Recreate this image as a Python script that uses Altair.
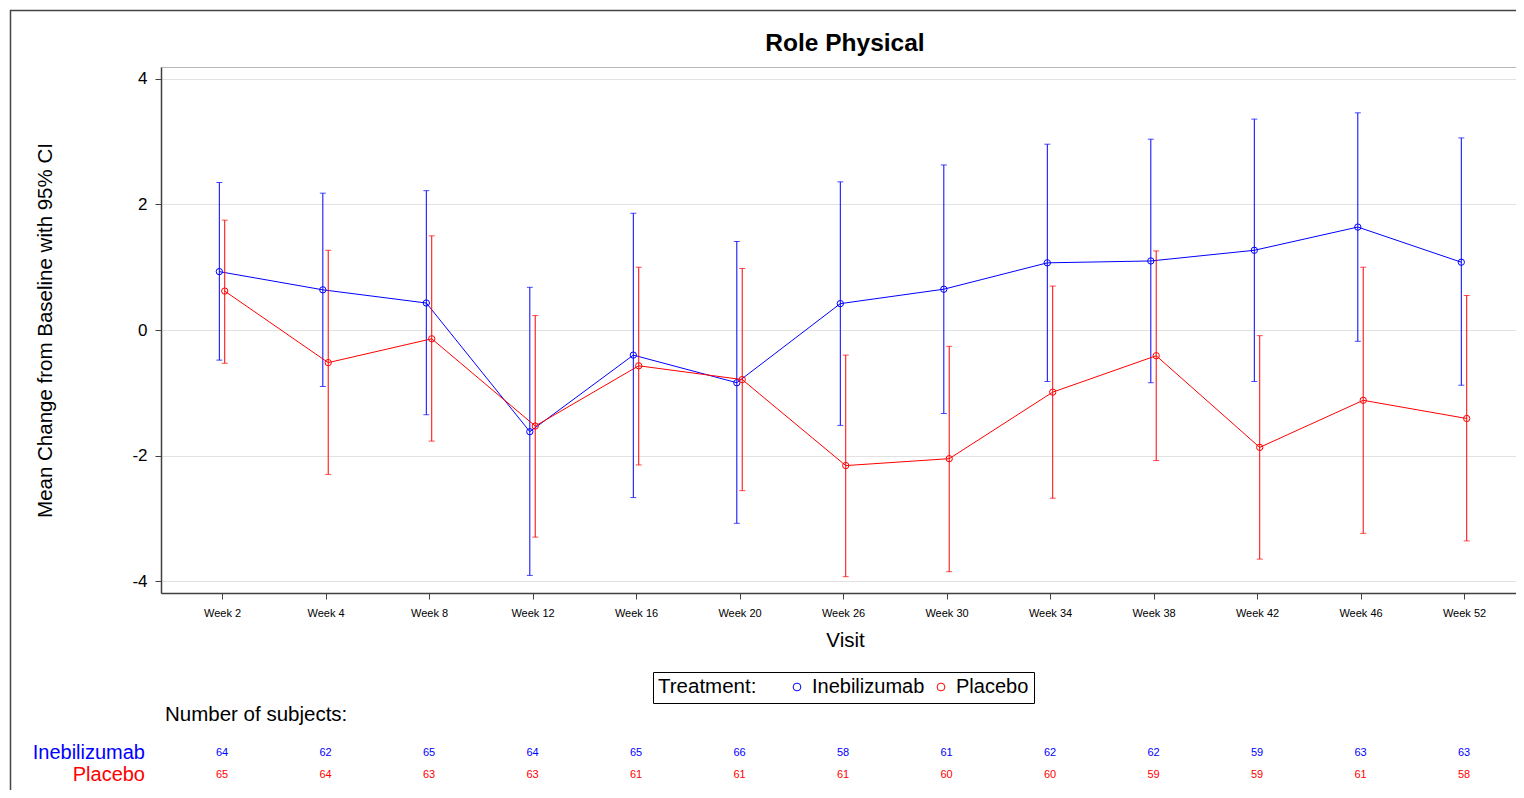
import altair as alt
import pandas as pd

# ---- data ----
visits = ["Week 2", "Week 4", "Week 8", "Week 12", "Week 16", "Week 20", "Week 26",
          "Week 30", "Week 34", "Week 38", "Week 42", "Week 46", "Week 52"]
treatments = ["Inebilizumab", "Placebo"]

ine_mean = [0.93, 0.64, 0.43, -1.62, -0.40, -0.84, 0.42, 0.65, 1.07, 1.10, 1.27, 1.64, 1.08]
ine_lo = [-0.48, -0.90, -1.35, -3.91, -2.67, -3.08, -1.52, -1.33, -0.82, -0.84, -0.82, -0.18, -0.88]
ine_hi = [2.35, 2.18, 2.22, 0.68, 1.86, 1.41, 2.36, 2.63, 2.96, 3.04, 3.36, 3.46, 3.06]

pla_mean = [0.62, -0.52, -0.14, -1.53, -0.57, -0.79, -2.16, -2.05, -0.99, -0.41, -1.87, -1.12, -1.41]
pla_lo = [-0.53, -2.30, -1.77, -3.30, -2.15, -2.56, -3.93, -3.85, -2.68, -2.08, -3.65, -3.24, -3.36]
pla_hi = [1.75, 1.27, 1.50, 0.23, 1.00, 0.98, -0.40, -0.26, 0.70, 1.26, -0.09, 1.00, 0.55]

ine_n = [64, 62, 65, 64, 65, 66, 58, 61, 62, 62, 59, 63, 63]
pla_n = [65, 64, 63, 63, 61, 61, 61, 60, 60, 59, 59, 61, 58]

title_text = "Role Physical"

# ---- layout / style ----
W, H = 1355, 526
FONT = "Liberation Sans"
BLUE, RED = "#0000FF", "#FF0000"
AX = "#404040"
BIG = 20.5


def frame(trt, mean, lo, hi, n):
    return pd.DataFrame({"visit": visits, "trt": trt, "mean": mean, "lo": lo, "hi": hi, "n": n})


df_ine = frame("Inebilizumab", ine_mean, ine_lo, ine_hi, ine_n)
df_pla = frame("Placebo", pla_mean, pla_lo, pla_hi, pla_n)

xscale = alt.Scale(domain=visits, type="point", padding=0.546, align=0.54)
yscale = alt.Scale(domain=[-4.19, 4.19], nice=False, zero=False)
cscale = alt.Scale(domain=treatments, range=[BLUE, RED])

xaxis = alt.Axis(labelAngle=0, tickSize=6, labelPadding=8, labelFontSize=11,
                 labelColor="black", titleFontSize=BIG, titleFontWeight="normal",
                 titleColor="black", grid=False, domainColor=AX, domainWidth=1.5,
                 tickColor=AX, titleBaseline="middle", titleY=47, titleX=684)
yaxis = alt.Axis(values=[-4, -2, 0, 2, 4], labelExpr="'' + datum.value", grid=True,
                 gridColor="#e2e2e2", tickSize=6, labelPadding=8, labelFontSize=17,
                 labelColor="black", titleFontSize=BIG, titleFontWeight="normal",
                 titleColor="black", domainColor=AX, domainWidth=1.5, tickColor=AX,
                 titleX=-116, titleY=H / 2, titleAlign="center", titleBaseline="middle",
                 titleAngle=-90)

XT = "Visit"
YT = "Mean Change from Baseline with 95% CI"


def X():
    return alt.X("visit:N", scale=xscale, sort=visits, axis=xaxis, title=XT)


def Y(f):
    return alt.Y(f"{f}:Q", scale=yscale, axis=yaxis, title=YT)


legend = alt.Legend(title="Treatment:", orient="none", legendX=492, legendY=605,
                    direction="horizontal", titleOrient="left", strokeColor="black",
                    padding=5, titleFontSize=BIG, titleFontWeight="normal", labelFontSize=20,
                    titleColor="black", labelColor="black", symbolType="circle",
                    symbolSize=60, symbolStrokeWidth=1, titlePadding=30, labelOffset=5,
                    columnPadding=6, fillColor="white", titleBaseline="middle")


def series(df, col, dx, ny):
    base = alt.Chart(df)
    line = base.mark_line(color=col, strokeWidth=1, xOffset=dx).encode(x=X(), y=Y("mean"))
    rule = base.mark_rule(color=col, strokeWidth=1, xOffset=dx).encode(
        x=X(), y=Y("lo"), y2="hi:Q")
    cap_lo = base.mark_tick(color=col, orient="horizontal", size=6, thickness=1,
                            xOffset=dx).encode(x=X(), y=Y("lo"))
    cap_hi = base.mark_tick(color=col, orient="horizontal", size=6, thickness=1,
                            xOffset=dx).encode(x=X(), y=Y("hi"))
    pts = base.mark_point(shape="circle", filled=False, size=40, strokeWidth=1,
                          opacity=1, xOffset=dx).encode(
        x=X(), y=Y("mean"), color=alt.Color("trt:N", scale=cscale, legend=legend))
    counts = base.mark_text(fontSize=11, color=col, align="center",
                            baseline="middle").encode(x=X(), y=alt.value(ny), text="n:Q")
    return [rule, cap_lo, cap_hi, line, pts, counts]


one = pd.DataFrame({"k": [0]})
outer = alt.Chart(one).mark_rect(fillOpacity=0, stroke="#444444", strokeWidth=1.5).encode(
    x=alt.value(-150.5), x2=alt.value(W + 30), y=alt.value(-56.5), y2=alt.value(H + 240))
title = alt.Chart(one).mark_text(fontSize=24.5, fontWeight="bold", align="center",
                                 baseline="middle", color="black").encode(
    x=alt.value(684), y=alt.value(-23), text=alt.value(title_text))
nsub = alt.Chart(one).mark_text(fontSize=BIG, align="left", baseline="middle",
                                color="black").encode(
    x=alt.value(4), y=alt.value(648), text=alt.value("Number of subjects:"))
lab_ine = alt.Chart(one).mark_text(fontSize=20, align="right", baseline="middle",
                                   color=BLUE).encode(
    x=alt.value(-16), y=alt.value(686), text=alt.value("Inebilizumab"))
lab_pla = alt.Chart(one).mark_text(fontSize=20, align="right", baseline="middle",
                                   color=RED).encode(
    x=alt.value(-16), y=alt.value(708), text=alt.value("Placebo"))

layers = [outer, title] + series(df_ine, BLUE, -2.7, 686) + series(df_pla, RED, 2.7, 708) + \
         [nsub, lab_ine, lab_pla]

chart = alt.layer(*layers).properties(
    width=W, height=H,
    padding={"left": 153, "top": 59, "right": 0, "bottom": 197},
    autosize=alt.AutoSizeParams(type="none"),
).configure(font=FONT).configure_view(stroke="#b8b8b8", strokeWidth=1)

chart.save("out.html", embed_options={"renderer": "svg", "actions": False})
